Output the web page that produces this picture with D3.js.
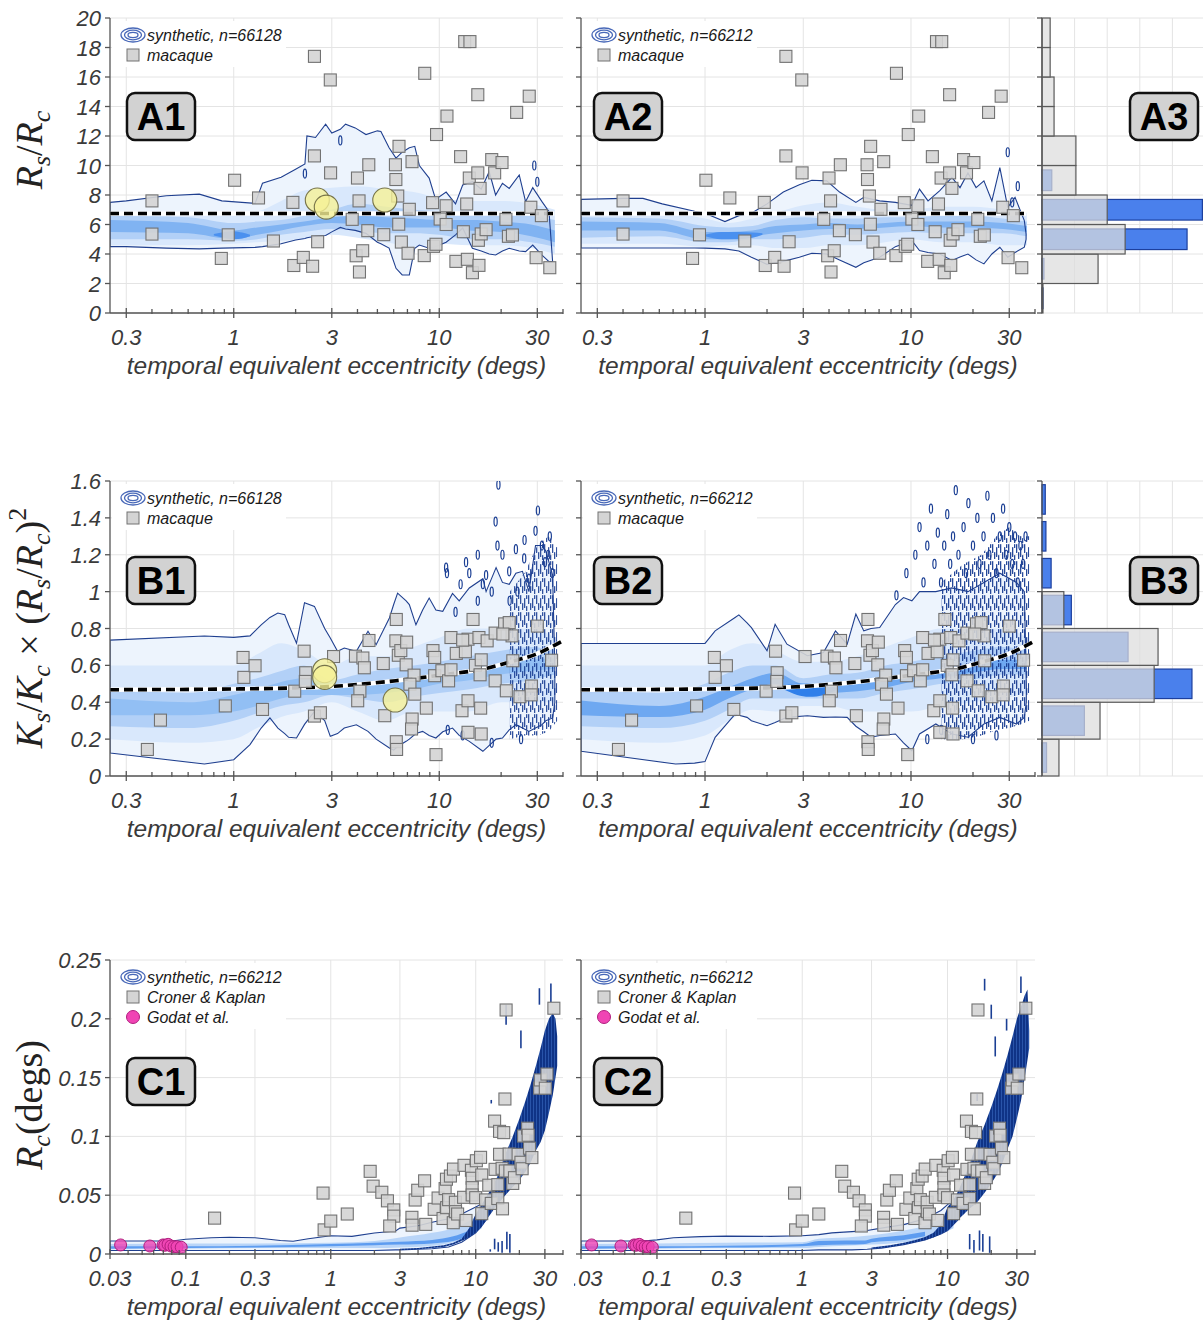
<!DOCTYPE html>
<html>
<head>
<meta charset="utf-8">
<script src="https://cdn.jsdelivr.net/npm/d3@7"></script>
<style>
body { margin: 0; background: #fff; }
svg { display: block; font-family: "Liberation Sans", Arial, sans-serif; }
</style>
</head>
<body>
<svg id="fig" width="1203" height="1321"></svg>
<script>
// ---------- data ----------
// macaque Rs/Rc vs eccentricity (panels A1, A2)
var aMacaque = [[0.40,7.6],[0.40,5.35],[0.87,3.7],[1.01,9.0],[0.94,5.3],[1.32,7.8],[1.56,4.88],[1.94,7.5],[1.96,3.22],[2.18,3.77],
  [2.42,3.17],[2.47,17.4],[2.47,10.65],[2.56,4.83],[2.95,15.8],[2.96,9.5],[3.77,6.35],[4.0,9.15],[4.07,7.6],[3.94,3.88],
  [4.24,4.22],[4.09,2.78],[4.49,5.58],[4.54,10.05],[5.37,5.31],[6.12,10.05],[6.15,9.05],[6.37,11.3],[6.28,7.93],[6.35,6.02],
  [6.54,4.81],[7.05,4.05],[7.15,7.03],[7.37,10.26],[8.5,16.25],[8.45,3.89],[9.28,7.48],[9.38,4.52],[9.64,4.66],[9.7,12.1],
  [10.1,6.37],[10.8,7.27],[10.8,6.0],[10.9,13.35],[12.05,3.5],[12.7,10.6],[13.1,5.51],[13.3,18.4],[14.1,18.4],[13.6,7.39],
  [13.7,3.64],[14.0,9.15],[14.5,2.73],[15.4,14.8],[15.4,9.5],[15.5,4.93],[15.6,3.23],[15.8,8.45],[16.0,5.36],[16.9,5.65],
  [18.0,10.4],[18.6,9.5],[20.2,10.2],[21.1,6.35],[21.7,5.2],[22.7,5.29],[23.8,13.6],[27.4,14.7],[27.9,7.17],[29.6,3.75],
  [31.4,6.6],[34.5,3.07]];
var a1Yellow = [[2.55,7.66],[2.82,7.18],[5.43,7.66]];

// macaque Ks/Kc x (Rs/Rc)^2 (panels B1, B2)
var bMacaque = [[0.38,0.144],[0.44,0.303],[0.91,0.38],[1.11,0.643],[1.12,0.535],[1.27,0.598],[1.38,0.361],[1.98,0.46],[2.2,0.677],[2.24,0.56],
  [2.23,0.513],[2.47,0.325],[2.64,0.343],[3.06,0.648],[3.91,0.65],[4.25,0.64],[4.32,0.587],[4.11,0.46],[4.01,0.408],[4.55,0.735],
  [5.34,0.61],[5.43,0.327],[6.18,0.849],[6.15,0.733],[6.32,0.655],[6.5,0.68],[6.94,0.726],[6.9,0.603],[7.54,0.547],[7.2,0.498],
  [7.6,0.444],[7.38,0.309],[7.33,0.255],[6.18,0.186],[6.2,0.144],[8.65,0.368],[9.32,0.68],[9.5,0.643],[9.64,0.116],[9.5,0.544],
  [10.3,0.571],[11.4,0.751],[11.1,0.516],[11.4,0.576],[12.1,0.665],[13.4,0.674],[12.9,0.354],[13.8,0.408],[13.8,0.237],[13.8,0.742],
  [13.0,0.737],[14.6,0.849],[15.6,0.751],[15.0,0.6],[15.8,0.549],[15.9,0.368],[16.0,0.228],[16.0,0.63],[17.1,0.733],[18.7,0.516],
  [18.7,0.775],[20.8,0.825],[21.2,0.462],[21.9,0.832],[22.8,0.625],[22.6,0.76],[24.7,0.43],[28.1,0.488],[28.0,0.44],[30,0.813],
  [35.2,0.628],[20.4,0.77]];
var b1Yellow = [[2.77,0.571],[2.77,0.535],[6.1,0.412]];

// Croner & Kaplan Rc and Godat et al. (panels C1, C2)
var cCronerKaplan = [[0.158,0.0305],[0.885,0.0518],[0.9,0.0205],[1.0,0.028],[1.3,0.034],[1.87,0.0703],[1.96,0.0577],[2.25,0.0525],[2.46,0.0452],[2.72,0.0375],
  [2.72,0.0322],[2.55,0.0238],[3.63,0.0312],[3.64,0.0245],[3.82,0.0459],[3.98,0.0542],[4.44,0.0622],[4.52,0.0252],[5.17,0.038],[5.5,0.0476],
  [5.95,0.0302],[6.15,0.0556],[6.28,0.0636],[6.3,0.0394],[6.5,0.0462],[6.69,0.0663],[7.02,0.0722],[7.0,0.0266],[7.24,0.044],[7.26,0.036],
  [7.5,0.034],[8.3,0.0754],[8.25,0.0482],[8.57,0.0285],[9.34,0.0712],[9.45,0.0644],[9.45,0.0564],[9.45,0.0502],[10.1,0.0793],[10.8,0.0822],
  [10.0,0.0479],[11.0,0.0672],[11.0,0.0343],[11.7,0.046],[12.3,0.0585],[12.8,0.043],[13.5,0.113],[13.6,0.072],[14.2,0.059],[14.2,0.0472],
  [14.6,0.1043],[14.6,0.0848],[15.2,0.0729],[15.3,0.0384],[15.6,0.1032],[15.9,0.1318],[16.0,0.0706],[16.2,0.2075],[17.0,0.085],[17.2,0.0706],
  [18.0,0.06],[18.5,0.0649],[19.6,0.0847],[20.5,0.078],[20.9,0.0725],[21.4,0.1003],[22.8,0.107],[23.0,0.101],[23.5,0.09],[24.4,0.082],
  [27.6,0.141],[27.9,0.148],[30.2,0.141],[31.0,0.153],[34.6,0.209]];
var cGodat = [[0.0355,0.0077],[0.0565,0.0068],[0.0697,0.0077],[0.0716,0.0074],[0.0755,0.0082],[0.079,0.0068],[0.083,0.0062],[0.087,0.0062],[0.093,0.0057]];

// synthetic density: outer contour (x, upper, lower)
var a1EnvX = [0.25,0.3,0.47,0.68,0.875,1.27,1.38,1.7,2.0,2.22,2.27,2.5,2.8,3.0,3.3,3.5,3.9,4.4,5.0,5.2,5.7,6.16,6.6,7.15,7.6,8.0,8.93,9.6,10.8,12,13,14.5,16,17.5,18.8,20.3,21.9,24.5,26.3,28.5,31.6,34.2,35.6];
var a1EnvHi = [7.5,7.6,7.95,8.06,7.6,7.43,8.8,9.2,9.75,10.1,12.0,11.9,12.8,12.2,12.45,12.8,12.55,12.1,12.35,12.3,11.2,10.5,10.9,11.2,11.3,10.0,9.15,7.7,8.2,7.4,8.68,8.9,8.4,9.58,8.0,8.8,8.45,9.36,7.55,8.5,7.55,6.87,3.5];
var a1EnvLo = [4.5,4.5,4.4,4.35,4.4,4.45,4.5,4.7,4.95,5.05,5.1,5.2,5.25,5.5,5.8,5.7,5.6,5.4,4.8,4.7,4.4,3.03,2.58,2.58,4.39,4.61,4.39,4.5,4.8,5.3,5.76,4.39,4.2,4.0,3.93,4.2,4.39,4.2,4.16,4.61,3.93,3.48,3.5];
var a2EnvX = [0.25,0.4,0.5,0.62,0.89,1.0,1.25,1.46,1.68,2.0,2.4,2.87,3.3,3.9,4.5,5.4,5.9,7.05,8.4,10.1,11,12.1,13.8,15.8,17.3,18.9,20.7,22.6,24.7,27,29.5,32,35.5,36.2];
var a2EnvHi = [7.7,7.77,7.77,7.4,6.9,6.76,6.2,6.6,6.76,7.4,8.2,8.7,9.0,8.96,8.2,7.5,7.84,7.6,7.5,7.3,8.4,7.6,8.3,9.2,8.5,9.5,8.5,8.96,7.6,9.86,7.16,7.84,6.26,5.36];
var a2EnvLo = [4.41,4.41,4.41,4.41,4.41,4.4,4.35,4.2,3.78,3.3,3.5,3.78,4.05,4.0,3.6,3.1,3.4,3.78,4.5,4.9,4.23,4.1,4.0,3.56,3.8,4.0,3.6,3.33,4.0,4.46,3.78,4.1,4.46,5.0];
var b1EnvX = [0.25,0.72,1.0,1.2,1.36,1.5,1.64,1.77,1.85,2.02,2.21,2.47,2.77,2.95,3.2,3.45,3.95,4.5,4.93,5.72,6.0,6.27,6.9,7.15,7.7,8.3,8.93,9.63,10.4,11.6,12.5,14.0,16.3,16.9,18.9,20.3,21.9,23.6,25.4,27.3,29.4,31.6,33,35.6,36.5];
var b1EnvHi = [0.737,0.759,0.752,0.76,0.82,0.86,0.884,0.875,0.82,0.72,0.94,0.92,0.8,0.748,0.676,0.694,0.676,0.785,0.712,0.857,0.93,0.992,0.95,0.93,0.82,0.9,0.965,0.9,0.893,0.99,0.95,1.02,1.07,1.0,1.13,1.05,1.04,1.1,1.11,1.0,1.25,1.25,1.22,1.09,0.6];
var b1EnvLo = [0.125,0.065,0.088,0.17,0.26,0.315,0.26,0.23,0.21,0.206,0.28,0.35,0.3,0.215,0.23,0.26,0.278,0.242,0.2,0.152,0.14,0.16,0.188,0.2,0.23,0.242,0.22,0.206,0.24,0.26,0.22,0.188,0.134,0.15,0.2,0.206,0.25,0.278,0.26,0.242,0.26,0.278,0.3,0.315,0.4];
var b2EnvX = [0.25,0.72,0.89,1.0,1.12,1.4,1.46,1.6,1.68,2.0,2.19,2.5,3.14,3.76,4.3,4.9,5.4,5.9,6.4,7.05,8.4,9.2,10.1,11,13.2,15.8,18.9,22.6,27,32.5,35.5,36.3];
var b2EnvHi = [0.719,0.719,0.719,0.719,0.787,0.86,0.874,0.83,0.805,0.679,0.823,0.715,0.652,0.67,0.787,0.715,0.878,0.787,0.8,0.805,0.93,0.968,0.95,1.0,1.0,1.02,1.0,1.05,1.1,1.05,1.0,0.5];
var b2EnvLo = [0.134,0.065,0.07,0.078,0.21,0.336,0.33,0.318,0.3,0.273,0.29,0.318,0.327,0.318,0.32,0.318,0.27,0.24,0.21,0.22,0.228,0.18,0.137,0.228,0.282,0.228,0.21,0.282,0.318,0.282,0.318,0.4];

// synthetic density: inner levels on a shared eccentricity grid
var abBandX = [0.25,0.6,1.0,1.3,1.7,2.2,3,4,5.5,7.5,10,14,20,28,36.5];
var a1Band1Lo = [4.6,4.6,4.7,4.8,4.9,5.0,5.3,5.1,4.8,4.5,4.7,4.6,4.6,4.4,4.0];
var a1Band1Hi = [6.9,6.9,6.8,6.9,7.6,8.3,8.5,8.6,8.4,8.2,7.8,7.6,7.6,7.4,7.0];
var a1Band2Lo = [5.0,5.0,4.9,5.0,5.3,5.5,5.7,5.6,5.4,5.4,5.3,5.0,5.0,4.8,4.5];
var a1Band2Hi = [6.6,6.5,6.1,6.2,6.3,6.6,7.0,7.4,7.2,7.0,6.9,6.8,6.8,6.6,6.3];
var a1Band3Lo = [5.5,5.4,5.0,5.3,5.6,5.9,6.1,6.0,5.8,5.8,5.8,5.6,5.5,5.2,4.8];
var a1Band3Hi = [6.3,6.1,5.6,5.8,6.0,6.2,6.5,6.6,6.5,6.4,6.3,6.3,6.2,6.0,5.6];
var a2Band1Lo = [4.7,4.7,4.5,4.6,4.6,4.4,4.4,4.6,4.6,4.8,5.0,4.8,4.8,4.6,4.6];
var a2Band1Hi = [6.9,6.9,6.4,6.1,6.4,6.8,7.3,7.5,7.2,7.0,7.0,7.2,7.2,7.0,6.8];
var a2Band2Lo = [5.1,5.2,4.8,4.8,5.0,5.0,5.1,5.3,5.3,5.4,5.5,5.4,5.4,5.4,5.2];
var a2Band2Hi = [6.5,6.4,5.9,5.8,5.9,6.3,6.5,6.4,6.4,6.5,6.5,6.6,6.6,6.4,6.2];
var a2Band3Lo = [5.6,5.6,5.0,5.0,5.2,5.4,5.6,5.7,5.7,5.8,5.9,5.8,5.8,5.7,5.5];
var a2Band3Hi = [6.2,6.1,5.5,5.5,5.6,5.9,6.0,6.1,6.0,6.1,6.2,6.2,6.2,6.1,5.9];
var b1Band1Lo = [0.2,0.18,0.2,0.26,0.32,0.35,0.4,0.35,0.3,0.35,0.35,0.35,0.4,0.4,0.4];
var b1Band1Hi = [0.6,0.6,0.6,0.66,0.72,0.68,0.6,0.65,0.65,0.7,0.75,0.8,0.8,0.8,0.75];
var b1Band2Lo = [0.27,0.26,0.3,0.34,0.38,0.4,0.44,0.42,0.4,0.43,0.45,0.47,0.5,0.52,0.55];
var b1Band2Hi = [0.47,0.45,0.5,0.53,0.57,0.6,0.52,0.55,0.58,0.6,0.62,0.65,0.68,0.7,0.68];
var b1Band3Lo = [0.33,0.33,0.35,0.38,0.42,0.44,0.44,0.44,0.45,0.47,0.5,0.52,0.55,0.57,0.58];
var b1Band3Hi = [0.42,0.4,0.44,0.47,0.51,0.53,0.5,0.5,0.52,0.53,0.55,0.58,0.6,0.63,0.64];
var b2Band1Lo = [0.2,0.18,0.22,0.3,0.36,0.35,0.38,0.38,0.35,0.35,0.35,0.38,0.4,0.42,0.45];
var b2Band1Hi = [0.6,0.6,0.6,0.68,0.72,0.68,0.62,0.62,0.65,0.7,0.75,0.8,0.8,0.8,0.75];
var b2Band2Lo = [0.27,0.26,0.3,0.36,0.42,0.42,0.42,0.42,0.42,0.45,0.47,0.5,0.52,0.55,0.55];
var b2Band2Hi = [0.47,0.45,0.5,0.56,0.6,0.6,0.53,0.55,0.56,0.6,0.62,0.65,0.68,0.7,0.68];
var b2Band3Lo = [0.33,0.32,0.36,0.42,0.47,0.5,0.44,0.45,0.46,0.48,0.51,0.53,0.56,0.58,0.58];
var b2Band3Hi = [0.41,0.38,0.43,0.48,0.53,0.56,0.5,0.5,0.52,0.53,0.56,0.58,0.61,0.63,0.63];
// densest cores
var a1CoreX = [0.8,0.9,1.0,1.1,1.2];
var a1CoreLo = [5.25,5.1,5.0,5.05,5.2];
var a1CoreHi = [5.35,5.5,5.55,5.45,5.3];
var a2CoreX = [1.0,1.2,1.45,1.7,1.9];
var a2CoreLo = [5.2,5.0,5.0,5.1,5.3];
var a2CoreHi = [5.3,5.5,5.5,5.45,5.4];
var b2CoreX = [2.4,2.8,3.2,3.8,4.4];
var b2CoreLo = [0.47,0.44,0.43,0.44,0.47];
var b2CoreHi = [0.49,0.5,0.5,0.49,0.48];

// synthetic density in C: outer contour, inner levels and the dense high-eccentricity cloud
var c1EnvX = [0.03,0.08,0.1,0.15,0.2,0.3,0.45,0.55,0.7,1,1.4,2,2.8,3,4,5,6.5,8,10,12];
var c1EnvHi = [0.011,0.011,0.0125,0.0138,0.0143,0.0138,0.0115,0.0108,0.013,0.0155,0.015,0.0178,0.0195,0.022,0.024,0.027,0.03,0.034,0.04,0.045];
var c1EnvLo = [0.003,0.003,0.003,0.003,0.003,0.003,0.003,0.003,0.003,0.003,0.003,0.003,0.0035,0.0035,0.004,0.0045,0.006,0.01,0.018,0.03];
var c2EnvX = [0.03,0.08,0.1,0.13,0.2,0.3,0.6,1,1.3,1.6,2.2,2.8,3.5,5,7,9,10,12];
var c2EnvHi = [0.011,0.011,0.012,0.0138,0.0148,0.0152,0.015,0.0155,0.0165,0.018,0.019,0.02,0.022,0.025,0.03,0.037,0.042,0.05];
var c2EnvLo = [0.003,0.003,0.003,0.003,0.003,0.003,0.003,0.003,0.0035,0.0035,0.0035,0.004,0.005,0.008,0.012,0.017,0.02,0.03];
var c1Band2X = [0.03,0.1,0.3,1,2,3,5,7,9,11];
var c1Band2Lo = [0.004,0.0045,0.005,0.005,0.005,0.0055,0.007,0.01,0.015,0.022];
var c1Band2Hi = [0.0085,0.009,0.009,0.0095,0.011,0.014,0.018,0.022,0.028,0.035];
var c1Band3X = [0.03,0.1,0.3,1,2,3,5,7,9];
var c1Band3Lo = [0.0045,0.005,0.0055,0.0065,0.0075,0.008,0.009,0.011,0.016];
var c1Band3Hi = [0.0065,0.0065,0.007,0.0085,0.0095,0.0105,0.012,0.015,0.02];
var c2Band2X = [0.03,0.1,0.3,1,1.3,2,3,5,7,9,11];
var c2Band2Lo = [0.004,0.0045,0.005,0.005,0.006,0.007,0.008,0.01,0.013,0.017,0.022];
var c2Band2Hi = [0.0085,0.009,0.0095,0.01,0.013,0.014,0.016,0.02,0.024,0.03,0.037];
var c2Band3X = [0.03,0.1,0.3,1,1.3,2,2.7,3,5,7];
var c2Band3Lo = [0.0045,0.005,0.0055,0.0065,0.0075,0.008,0.0085,0.01,0.012,0.015];
var c2Band3Hi = [0.0065,0.0065,0.007,0.0085,0.011,0.0115,0.0115,0.013,0.016,0.019];
var cCloudX = [3,4,5,6,7,8,9,10,11,12,13,14,15,16,18,20,22,24,26,28,30,32,34,35.5,36.5];
var c1CloudLo = [0.0035,0.004,0.005,0.006,0.008,0.011,0.014,0.018,0.023,0.03,0.036,0.042,0.046,0.05,0.057,0.063,0.07,0.078,0.088,0.095,0.105,0.12,0.135,0.15,0.16];
var c1CloudHi = [0.0045,0.0052,0.0063,0.0075,0.0095,0.013,0.022,0.034,0.042,0.05,0.057,0.065,0.075,0.085,0.1,0.115,0.13,0.145,0.16,0.175,0.19,0.2,0.205,0.2,0.185];
var c2CloudLo = [0.0045,0.006,0.008,0.01,0.012,0.014,0.017,0.02,0.025,0.03,0.034,0.038,0.041,0.044,0.052,0.06,0.068,0.078,0.09,0.1,0.115,0.13,0.15,0.165,0.175];
var c2CloudHi = [0.0055,0.0075,0.0095,0.012,0.0145,0.018,0.025,0.04,0.046,0.055,0.065,0.074,0.085,0.095,0.11,0.125,0.14,0.155,0.17,0.185,0.2,0.21,0.22,0.225,0.19];
var c1Strands = [[16.2,0.195,0.212],[20.5,0.175,0.19],[27.5,0.212,0.226],[33,0.214,0.23],[12.8,0.128,0.131],[13.5,0.004,0.013],[14.3,0.002,0.01],[15.2,0.001,0.011],[16.4,0.004,0.019],[17.2,0.001,0.017],[12.6,0.002,0.004]];
var c2Strands = [[18,0.224,0.234],[20,0.2,0.212],[21.3,0.168,0.185],[14.2,0.004,0.017],[15.2,0.001,0.012],[16.6,0.003,0.02],[17.5,0.002,0.017],[19.5,0.001,0.015],[32,0.222,0.236],[16,0.13,0.136],[25.5,0.19,0.2]];

// isolated contour islands and dense contour zones at high eccentricity
var a1Islands = [[2.22,9.45],[3.3,11.7],[29,10.0],[30,8.9]];
var a2Islands = [[29.5,10.9],[33,8.6],[31,7.5]];
var b1Islands = [[10.8,1.13],[10.9,1.1],[12.7,1.04],[13.5,1.16],[14,1.1],[15.4,1.2],[16.3,1.04],[16.9,1.09],[18.8,1.38],[19.2,1.25],[19.4,1.58],[20.3,1.2],[21.9,1.11],[23.6,1.23],[25.9,1.18],[27.3,1.07],[29.4,1.33],[30.2,1.44],[31.6,1.25],[32.7,1.16],[33.9,1.2],[15.4,0.95],[12,0.89],[18,1.0],[24,1.0],[26,1.28],[34.5,1.3],[35.5,1.1],[22,0.95],[13,0.22],[11,0.25],[18,0.18],[25,0.2]];
var b2Islands = [[8.5,0.98],[9.5,1.1],[10.5,1.2],[11,1.35],[11.5,1.05],[12,1.25],[12.5,1.45],[13,1.15],[13.5,1.32],[14,1.05],[14.5,1.25],[15,1.42],[15.5,1.15],[16,1.3],[16.5,1.55],[17,1.2],[18,1.35],[18.5,1.1],[19,1.48],[20,1.25],[21,1.4],[21.5,1.15],[22.5,1.3],[23.5,1.52],[24,1.2],[25,1.4],[26,1.1],[27,1.3],[28,1.45],[29,1.2],[30,1.35],[31,1.15],[32,1.3],[33,1.05],[34,1.25],[35,1.15],[36,1.3],[12,0.2],[14,0.25],[20,0.2],[26,0.22]];
var b1ZoneX = [22,26,30,34,37.5];
var b1ZoneLo = [0.2,0.22,0.22,0.24,0.3];
var b1ZoneHi = [1.0,1.1,1.25,1.3,1.25];
var b2ZoneX = [14,18,22,26,30,34,37.5];
var b2ZoneLo = [0.2,0.2,0.22,0.25,0.26,0.28,0.3];
var b2ZoneHi = [1.05,1.15,1.2,1.3,1.35,1.3,1.3];

// fitted dashed lines
var aFitX = [0.25,36.3];
var aFitY = [6.75,6.75];
var bFitX = [0.25,1,2,3,6.16,10.4,16.3,21.9,29.4,40];
var bFitY = [0.468,0.472,0.478,0.486,0.517,0.549,0.58,0.617,0.66,0.733];

// marginal histograms (A3, B3): bin lower edges and bar lengths
var aHistEdges = [0,2,4,6,8,10,12,14,16,18];
var aHistMacaque = [0.03,1.72,2.55,2.0,1.04,1.04,0.37,0.37,0.25,0.25];
var aHistSynthCenters = [1,3,5,7,9];
var aHistSynth = [0.03,0.06,4.45,4.92,0.3];
var bHistEdges = [0,0.2,0.4,0.6,0.8];
var bHistMacaque = [0.52,1.78,3.44,3.56,0.67];
var bHistSynthCenters = [0.1,0.3,0.5,0.7,0.9,1.1,1.3,1.5];
var bHistSynth = [0.14,1.3,4.6,2.64,0.9,0.28,0.12,0.1];

// axis ticks
var abXLabels = [0.3,1,3,10,30];
var cXLabels = [0.03,0.1,0.3,1,3,10,30];
var aYTicks = [0,2,4,6,8,10,12,14,16,18,20];
var bYTicks = [0,0.2,0.4,0.6,0.8,1,1.2,1.4,1.6];
var cYTicks = [0,0.05,0.1,0.15,0.2,0.25];

// ---------- drawing ----------
var svg = d3.select('#fig');
var defs = svg.append('defs');

var dense = defs.append('pattern').attr('id', 'dense')
	.attr('patternUnits', 'userSpaceOnUse').attr('width', 3).attr('height', 7);
dense.append('rect').attr('width', 3).attr('height', 7).attr('fill', '#3462b8');
dense.append('rect').attr('width', 2.3).attr('height', 7).attr('fill', '#0f3386');

// irregular short vertical strokes, like packed contour lines
var sparse = defs.append('pattern').attr('id', 'sparse')
	.attr('patternUnits', 'userSpaceOnUse').attr('width', 8).attr('height', 17);
[[0, 0, 9], [2, 8, 7], [4, 3, 10], [6, 11, 5], [6, 0, 4]].forEach(function(r) {
	sparse.append('rect').attr('x', r[0]).attr('y', r[1]).attr('width', 1.3).attr('height', r[2])
		.attr('rx', 0.6).attr('fill', '#1b3f94');
});

var gridColor = '#e4e4e4';
var axisColor = '#555';
var navy = '#1f3f8f';
var tickFont = 22;

function drawPanel(p) {
	var x = d3.scaleLog().domain(p.xDomain).range([p.x0, p.x1]);
	var y = d3.scaleLinear().domain(p.yDomain).range([p.y1, p.y0]);
	var g = svg.append('g');
	var cid = 'clip-' + p.name;
	defs.append('clipPath').attr('id', cid).append('rect')
		.attr('x', p.x0).attr('y', p.y0)
		.attr('width', p.x1 - p.x0).attr('height', p.y1 - p.y0);

	// grid
	g.append('g').selectAll('line').data(p.xLabels).enter().append('line')
		.attr('x1', function(d) { return x(d); }).attr('x2', function(d) { return x(d); })
		.attr('y1', p.y0).attr('y2', p.y1)
		.attr('stroke', gridColor);
	g.append('g').selectAll('line').data(p.yTicks).enter().append('line')
		.attr('x1', p.x0).attr('x2', p.x1)
		.attr('y1', function(d) { return y(d); }).attr('y2', function(d) { return y(d); })
		.attr('stroke', gridColor);

	var plot = g.append('g').attr('clip-path', 'url(#' + cid + ')');

	function band(xs, lo, hi, curve) {
		return d3.area()
			.x(function(d, i) { return x(xs[i]); })
			.y0(function(d, i) { return y(lo[i]); })
			.y1(function(d, i) { return y(hi[i]); })
			.curve(curve || d3.curveMonotoneX)(xs);
	}

	// density contours
	plot.append('path').attr('d', band(p.env[0], p.env[1], p.env[2], d3.curveLinear))
		.attr('fill', '#edf4fd');
	p.bands.forEach(function(b) {
		plot.append('path').attr('d', band(b[0], b[1], b[2])).attr('fill', b[3]);
	});
	plot.append('path').attr('d', band(p.env[0], p.env[1], p.env[2], d3.curveLinear))
		.attr('fill', 'none').attr('stroke', navy).attr('stroke-width', 1.1);
	(p.zones || []).forEach(function(z) {
		plot.append('path').attr('d', band(z[0], z[1], z[2], d3.curveLinear))
			.attr('fill', z[3]).attr('opacity', z[4] || 1);
	});
	plot.append('g').selectAll('ellipse').data(p.islands || []).enter().append('ellipse')
		.attr('cx', function(d) { return x(d[0]); })
		.attr('cy', function(d) { return y(d[1]); })
		.attr('rx', 1.6).attr('ry', 4.5)
		.attr('fill', 'none').attr('stroke', '#1b3f94').attr('stroke-width', 1.2);
	plot.append('g').selectAll('line').data(p.strands || []).enter().append('line')
		.attr('x1', function(d) { return x(d[0]); }).attr('x2', function(d) { return x(d[0]); })
		.attr('y1', function(d) { return y(d[1]); }).attr('y2', function(d) { return y(d[2]); })
		.attr('stroke', '#1b3f94').attr('stroke-width', 1.6);

	// fitted dashed line
	if (p.fit) {
		var fitLine = d3.line()
			.x(function(d, i) { return x(p.fit[0][i]); })
			.y(function(d, i) { return y(p.fit[1][i]); })
			.curve(d3.curveMonotoneX);
		plot.append('path').attr('d', fitLine(p.fit[0]))
			.attr('fill', 'none').attr('stroke', '#fff').attr('stroke-width', 4.5);
		plot.append('path').attr('d', fitLine(p.fit[0]))
			.attr('fill', 'none').attr('stroke', '#000').attr('stroke-width', 3.6)
			.attr('stroke-dasharray', '9,5');
	}

	// measured data
	var sq = 12;
	g.append('g').selectAll('rect').data(p.squares).enter().append('rect')
		.attr('x', function(d) { return x(d[0]) - sq / 2; })
		.attr('y', function(d) { return y(d[1]) - sq / 2; })
		.attr('width', sq).attr('height', sq)
		.attr('fill', '#d4d4d4').attr('fill-opacity', 0.9)
		.attr('stroke', '#727272').attr('stroke-width', 1.1);
	if (p.yellow) {
		g.append('g').selectAll('circle').data(p.yellow).enter().append('circle')
			.attr('cx', function(d) { return x(d[0]); })
			.attr('cy', function(d) { return y(d[1]); })
			.attr('r', 12)
			.attr('fill', '#f6f196').attr('fill-opacity', 0.8)
			.attr('stroke', '#77744a').attr('stroke-width', 1.1);
	}
	if (p.pink) {
		g.append('g').selectAll('circle').data(p.pink).enter().append('circle')
			.attr('cx', function(d) { return x(d[0]); })
			.attr('cy', function(d) { return y(d[1]); })
			.attr('r', 6)
			.attr('fill', '#f044b4').attr('fill-opacity', 0.8)
			.attr('stroke', '#b01e7e').attr('stroke-width', 1);
	}

	// axes
	var ax = g.append('g').attr('stroke', axisColor).attr('stroke-width', 1.3);
	ax.append('line').attr('x1', p.x0).attr('x2', p.x1).attr('y1', p.y1).attr('y2', p.y1);
	ax.append('line').attr('x1', p.x0).attr('x2', p.x0).attr('y1', p.y0).attr('y2', p.y1);
	var isMajor = function(t) {
		return p.xLabels.some(function(l) { return Math.abs(l - t) / l < 1e-6; });
	};
	ax.selectAll('line.tick').data(x.ticks()).enter().append('line')
		.attr('class', 'tick')
		.attr('x1', function(d) { return x(d); }).attr('x2', function(d) { return x(d); })
		.attr('y1', function(d) { return p.y1 - (isMajor(d) ? 5 : 4); })
		.attr('y2', function(d) { return p.y1 + (isMajor(d) ? 5 : 1); });
	ax.selectAll('line.ytick').data(p.yTicks).enter().append('line')
		.attr('class', 'ytick')
		.attr('x1', p.x0 - 5).attr('x2', p.x0)
		.attr('y1', function(d) { return y(d); }).attr('y2', function(d) { return y(d); });

	var xl = g.append('g')
		.attr('font-size', tickFont).attr('font-style', 'italic').attr('fill', '#3a3a3a')
		.attr('text-anchor', 'middle');
	if (p.labelClip) {
		defs.append('clipPath').attr('id', cid + '-lab').append('rect')
			.attr('x', p.labelClip).attr('y', p.y1).attr('width', 600).attr('height', 60);
		xl.attr('clip-path', 'url(#' + cid + '-lab)');
	}
	xl.selectAll('text').data(p.xLabels).enter().append('text')
		.attr('x', function(d) { return x(d); })
		.attr('y', p.y1 + 32)
		.text(function(d) { return String(+d.toFixed(3)); });
	g.append('text')
		.attr('x', (p.x0 + p.x1) / 2).attr('y', p.y1 + 61)
		.attr('text-anchor', 'middle')
		.attr('font-size', 24.5).attr('font-style', 'italic').attr('fill', '#3a3a3a')
		.text('temporal equivalent eccentricity (degs)');
	if (p.yLabels) {
		g.append('g').selectAll('text').data(p.yTicks).enter().append('text')
			.attr('x', p.x0 - 9)
			.attr('y', function(d) { return y(d) + 8; })
			.attr('text-anchor', 'end')
			.attr('font-size', tickFont).attr('font-style', 'italic').attr('fill', '#3a3a3a')
			.text(function(d) { return String(+d.toFixed(3)); });
	}

	// legend
	var lg = g.append('g');
	lg.append('rect').attr('x', p.x0 + 2).attr('y', p.y0 + 3)
		.attr('width', 174).attr('height', p.legend.length * 20 + 6)
		.attr('fill', '#fff');
	p.legend.forEach(function(item, i) {
		var cy = p.y0 + 17 + i * 20;
		var cx = p.x0 + 23;
		if (item[0] === 'contour') {
			[[12, 7], [8.5, 4.8], [5, 2.6]].forEach(function(r) {
				lg.append('ellipse').attr('cx', cx).attr('cy', cy).attr('rx', r[0]).attr('ry', r[1])
					.attr('fill', 'none').attr('stroke', '#4868b8').attr('stroke-width', 1.3);
			});
		} else if (item[0] === 'square') {
			lg.append('rect').attr('x', cx - 6).attr('y', cy - 6).attr('width', 12).attr('height', 12)
				.attr('fill', '#d4d4d4').attr('stroke', '#727272');
		} else {
			lg.append('circle').attr('cx', cx).attr('cy', cy).attr('r', 6.5)
				.attr('fill', '#f044b4').attr('stroke', '#b01e7e');
		}
		lg.append('text').attr('x', p.x0 + 37).attr('y', cy + 5.5)
			.attr('font-size', 16).attr('font-style', 'italic').attr('fill', '#1a1a1a')
			.text(item[1]);
	});

	panelTag(p.tag, p.tagPos[0], p.tagPos[1]);
}

function panelTag(label, x0, y0) {
	var t = svg.append('g');
	t.append('rect').attr('x', x0).attr('y', y0).attr('width', 68).attr('height', 47)
		.attr('rx', 8).attr('fill', '#d2d2d2').attr('stroke', '#111').attr('stroke-width', 2.5);
	t.append('text').attr('x', x0 + 34).attr('y', y0 + 37)
		.attr('text-anchor', 'middle').attr('font-size', 38).attr('font-weight', 'bold')
		.attr('fill', '#000').text(label);
}

function drawHist(h) {
	var y = d3.scaleLinear().domain(h.yDomain).range([h.y1, h.y0]);
	var x = d3.scaleLinear().domain([0, 5]).range([1042, 1205]);
	var g = svg.append('g');
	g.append('g').selectAll('line').data([1, 2, 3, 4]).enter().append('line')
		.attr('x1', function(d) { return x(d); }).attr('x2', function(d) { return x(d); })
		.attr('y1', h.y0).attr('y2', h.y1).attr('stroke', gridColor);
	g.append('g').selectAll('line').data(h.yTicks).enter().append('line')
		.attr('x1', x(0)).attr('x2', 1203)
		.attr('y1', function(d) { return y(d); }).attr('y2', function(d) { return y(d); })
		.attr('stroke', gridColor);
	g.append('g').selectAll('rect').data(h.synth).enter().append('rect')
		.attr('x', x(0))
		.attr('y', function(d, i) { return y(h.centers[i] + h.bw / 2); })
		.attr('width', function(d) { return x(d) - x(0); })
		.attr('height', function(d, i) { return y(h.centers[i] - h.bw / 2) - y(h.centers[i] + h.bw / 2); })
		.attr('fill', '#4a80ec').attr('stroke', '#1c3f9e').attr('stroke-width', 1.2);
	g.append('g').selectAll('rect').data(h.macaque).enter().append('rect')
		.attr('x', x(0))
		.attr('y', function(d, i) { return y(h.edges[i] + h.binW); })
		.attr('width', function(d) { return x(d) - x(0); })
		.attr('height', function(d, i) { return y(h.edges[i]) - y(h.edges[i] + h.binW); })
		.attr('fill', '#dcdcdc').attr('fill-opacity', 0.72)
		.attr('stroke', '#5a5a5a').attr('stroke-width', 1.2);
	var ax = g.append('g').attr('stroke', axisColor).attr('stroke-width', 1.3);
	ax.append('line').attr('x1', x(0)).attr('x2', x(0)).attr('y1', h.y0).attr('y2', h.y1);
	ax.selectAll('line.t').data(h.yTicks).enter().append('line').attr('class', 't')
		.attr('x1', x(0) - 5).attr('x2', x(0))
		.attr('y1', function(d) { return y(d); }).attr('y2', function(d) { return y(d); });
	panelTag(h.tag, 1130, h.tagY);
}

function mathLabel(cx, cy, parts) {
	var big = 38, small = 26;
	var t = svg.append('text')
		.attr('transform', 'translate(' + cx + ',' + cy + ') rotate(-90)')
		.attr('text-anchor', 'middle')
		.style('font-family', '"Liberation Serif", "DejaVu Serif", serif')
		.attr('font-size', big).attr('fill', '#222');
	var shift = 0;
	parts.forEach(function(pt) {
		var kind = pt[1];
		var target = kind === 'sub' ? 8 : (kind === 'sup' ? -16 : 0);
		t.append('tspan')
			.attr('dy', target - shift)
			.attr('font-size', kind === 'sub' || kind === 'sup' ? small : big)
			.attr('font-style', kind === 'i' || kind === 'sub' ? 'italic' : 'normal')
			.text(pt[0]);
		shift = target;
	});
}

var colA = {x0: 110, x1: 563};
var colB = {x0: 581, x1: 1035};
var bandColors = ['#d9e8fc', '#b2d0f7', '#80b3f2'];
var coreColor = '#4a90ef';

var legendAB = function(n) { return [['contour', 'synthetic, n=' + n], ['square', 'macaque']]; };
var legendC = [['contour', 'synthetic, n=66212'], ['square', 'Croner & Kaplan'], ['circle', 'Godat et al.']];

drawPanel({
	name: 'a1', x0: colA.x0, x1: colA.x1, y0: 18, y1: 313,
	xDomain: [0.25, 40], yDomain: [0, 20], xLabels: abXLabels, yTicks: aYTicks, yLabels: true,
	env: [a1EnvX, a1EnvHi, a1EnvLo],
	bands: [[abBandX, a1Band1Lo, a1Band1Hi, bandColors[0]], [abBandX, a1Band2Lo, a1Band2Hi, bandColors[1]],
		[abBandX, a1Band3Lo, a1Band3Hi, bandColors[2]], [a1CoreX, a1CoreLo, a1CoreHi, coreColor]],
	islands: a1Islands, fit: [aFitX, aFitY], squares: aMacaque, yellow: a1Yellow,
	legend: legendAB(66128), tag: 'A1', tagPos: [127, 93]
});
drawPanel({
	name: 'a2', x0: colB.x0, x1: colB.x1, y0: 18, y1: 313,
	xDomain: [0.25, 40], yDomain: [0, 20], xLabels: abXLabels, yTicks: aYTicks, yLabels: false,
	env: [a2EnvX, a2EnvHi, a2EnvLo],
	bands: [[abBandX, a2Band1Lo, a2Band1Hi, bandColors[0]], [abBandX, a2Band2Lo, a2Band2Hi, bandColors[1]],
		[abBandX, a2Band3Lo, a2Band3Hi, bandColors[2]], [a2CoreX, a2CoreLo, a2CoreHi, coreColor]],
	islands: a2Islands, fit: [aFitX, aFitY], squares: aMacaque,
	legend: legendAB(66212), tag: 'A2', tagPos: [594, 93]
});
drawPanel({
	name: 'b1', x0: colA.x0, x1: colA.x1, y0: 481, y1: 776,
	xDomain: [0.25, 40], yDomain: [0, 1.6], xLabels: abXLabels, yTicks: bYTicks, yLabels: true,
	env: [b1EnvX, b1EnvHi, b1EnvLo],
	bands: [[abBandX, b1Band1Lo, b1Band1Hi, bandColors[0]], [abBandX, b1Band2Lo, b1Band2Hi, bandColors[1]], [abBandX, b1Band3Lo, b1Band3Hi, '#92bff4']],
	zones: [[b1ZoneX, b1ZoneLo, b1ZoneHi, 'url(#sparse)', 0.9]],
	islands: b1Islands, fit: [bFitX, bFitY], squares: bMacaque, yellow: b1Yellow,
	legend: legendAB(66128), tag: 'B1', tagPos: [127, 557]
});
drawPanel({
	name: 'b2', x0: colB.x0, x1: colB.x1, y0: 481, y1: 776,
	xDomain: [0.25, 40], yDomain: [0, 1.6], xLabels: abXLabels, yTicks: bYTicks, yLabels: false,
	env: [b2EnvX, b2EnvHi, b2EnvLo],
	bands: [[abBandX, b2Band1Lo, b2Band1Hi, bandColors[0]], [abBandX, b2Band2Lo, b2Band2Hi, bandColors[1]],
		[abBandX, b2Band3Lo, b2Band3Hi, '#6ea8f1'], [b2CoreX, b2CoreLo, b2CoreHi, '#2f7fea']],
	zones: [[b2ZoneX, b2ZoneLo, b2ZoneHi, 'url(#sparse)', 0.95]],
	islands: b2Islands, fit: [bFitX, bFitY], squares: bMacaque,
	legend: legendAB(66212), tag: 'B2', tagPos: [594, 557]
});
drawPanel({
	name: 'c1', x0: colA.x0, x1: colA.x1, y0: 960, y1: 1254,
	xDomain: [0.03, 40], yDomain: [0, 0.25], xLabels: cXLabels, yTicks: cYTicks, yLabels: true,
	env: [c1EnvX, c1EnvHi, c1EnvLo],
	bands: [[c1Band2X, c1Band2Lo, c1Band2Hi, '#b9d5f8'], [c1Band3X, c1Band3Lo, c1Band3Hi, '#5d9cf0']],
	zones: [[cCloudX, c1CloudLo, c1CloudHi, 'url(#dense)', 1]],
	strands: c1Strands, squares: cCronerKaplan, pink: cGodat,
	legend: legendC, tag: 'C1', tagPos: [127, 1058]
});
drawPanel({
	name: 'c2', x0: colB.x0, x1: colB.x1, y0: 960, y1: 1254,
	xDomain: [0.03, 40], yDomain: [0, 0.25], xLabels: cXLabels, yTicks: cYTicks, yLabels: false,
	env: [c2EnvX, c2EnvHi, c2EnvLo],
	bands: [[c2Band2X, c2Band2Lo, c2Band2Hi, '#b9d5f8'], [c2Band3X, c2Band3Lo, c2Band3Hi, '#5d9cf0']],
	zones: [[cCloudX, c2CloudLo, c2CloudHi, 'url(#dense)', 1]],
	strands: c2Strands, squares: cCronerKaplan, pink: cGodat,
	legend: legendC, tag: 'C2', tagPos: [594, 1058], labelClip: 574
});

drawHist({
	y0: 18, y1: 313, yDomain: [0, 20], yTicks: aYTicks,
	edges: aHistEdges, binW: 2, macaque: aHistMacaque,
	centers: aHistSynthCenters, synth: aHistSynth, bw: 1.4,
	tag: 'A3', tagY: 93
});
drawHist({
	y0: 481, y1: 776, yDomain: [0, 1.6], yTicks: bYTicks,
	edges: bHistEdges, binW: 0.2, macaque: bHistMacaque,
	centers: bHistSynthCenters, synth: bHistSynth, bw: 0.16,
	tag: 'B3', tagY: 557
});

mathLabel(42, 150, [['R', 'i'], ['s', 'sub'], ['/', 'n'], ['R', 'i'], ['c', 'sub']]);
mathLabel(42, 628, [['K', 'i'], ['s', 'sub'], ['/', 'n'], ['K', 'i'], ['c', 'sub'], [' \u00d7 (', 'n'],
	['R', 'i'], ['s', 'sub'], ['/', 'n'], ['R', 'i'], ['c', 'sub'], [')', 'n'], ['2', 'sup']]);
mathLabel(42, 1105, [['R', 'i'], ['c', 'sub'], ['(degs)', 'n']]);
</script>
</body>
</html>
